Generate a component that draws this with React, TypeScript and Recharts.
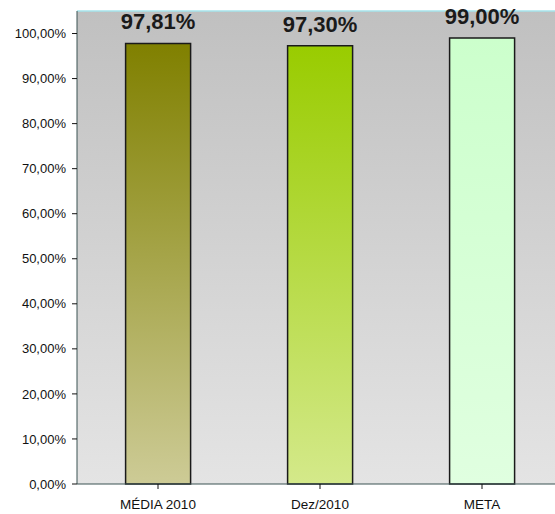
import { BarChart, Bar, XAxis, YAxis, CartesianGrid, Cell, LabelList, ReferenceLine } from 'recharts'

const categories = ['MÉDIA 2010', 'Dez/2010', 'META']
const values = [0.9781, 0.973, 0.99]
const yTicks = [0, 0.1, 0.2, 0.3, 0.4, 0.5, 0.6, 0.7, 0.8, 0.9, 1.0]

// top / bottom colour of each bar's gradient
const topColors = ['#808000', '#99cc00', '#ccffcc']
const bottomColors = ['#cdcb96', '#d4e98a', '#e0ffe0']

const data = categories.map((name, i) => ({ name, value: values[i] }))

const pct = (v: number) => (v * 100).toFixed(2).replace('.', ',') + '%'

const FONT = "Arial, 'Liberation Sans', sans-serif"

export default function App() {
  return (
    <div style={{ position: 'absolute', left: 0, top: 0, width: 555, height: 514, overflow: 'hidden', background: '#fff' }}>
      <BarChart
        width={570}
        height={514}
        data={data}
        margin={{ top: 11, right: 7, bottom: 0, left: 0 }}
        barCategoryGap='30%'
      >
        <defs>
          <linearGradient id='bg' x1='0' y1='0' x2='0' y2='1'>
            <stop offset='0%' stopColor='#c0c0c0' />
            <stop offset='100%' stopColor='#e4e4e4' />
          </linearGradient>
          {topColors.map((c, i) => (
            <linearGradient key={`g-${i}`} id={`bar${i}`} x1='0' y1='0' x2='0' y2='1'>
              <stop offset='0%' stopColor={c} />
              <stop offset='100%' stopColor={bottomColors[i]} />
            </linearGradient>
          ))}
        </defs>
        <CartesianGrid horizontal={false} vertical={false} fill='url(#bg)' fillOpacity={1} />
        <ReferenceLine y={1.05} stroke='#a6e4ec' strokeWidth={1.5} ifOverflow='visible' />
        <XAxis
          dataKey='name'
          height={30}
          tickSize={5}
          tickMargin={10}
          stroke='#3a5252'
          tick={{ fill: '#111', fontSize: 13.5, fontFamily: FONT }}
          tickLine={{ stroke: '#111' }}
        />
        <YAxis
          width={77}
          domain={[0, 1.05]}
          ticks={yTicks}
          tickFormatter={pct}
          tickSize={5}
          tickMargin={6}
          stroke='#3a5252'
          tick={{ fill: '#111', fontSize: 13, fontFamily: FONT }}
          tickLine={{ stroke: '#111' }}
          interval={0}
        />
        <Bar dataKey='value' stroke='#1a1a1a' strokeWidth={1.5} isAnimationActive={false}>
          {data.map((entry, index) => (
            <Cell key={`cell-${index}`} fill={`url(#bar${index})`} />
          ))}
          <LabelList
            dataKey='value'
            position='top'
            offset={14}
            formatter={(v: any) => pct(Number(v))}
            style={{ fill: '#1a1a1a', fontSize: 22, fontWeight: 'bold', fontFamily: FONT }}
          />
        </Bar>
      </BarChart>
    </div>
  )
}
